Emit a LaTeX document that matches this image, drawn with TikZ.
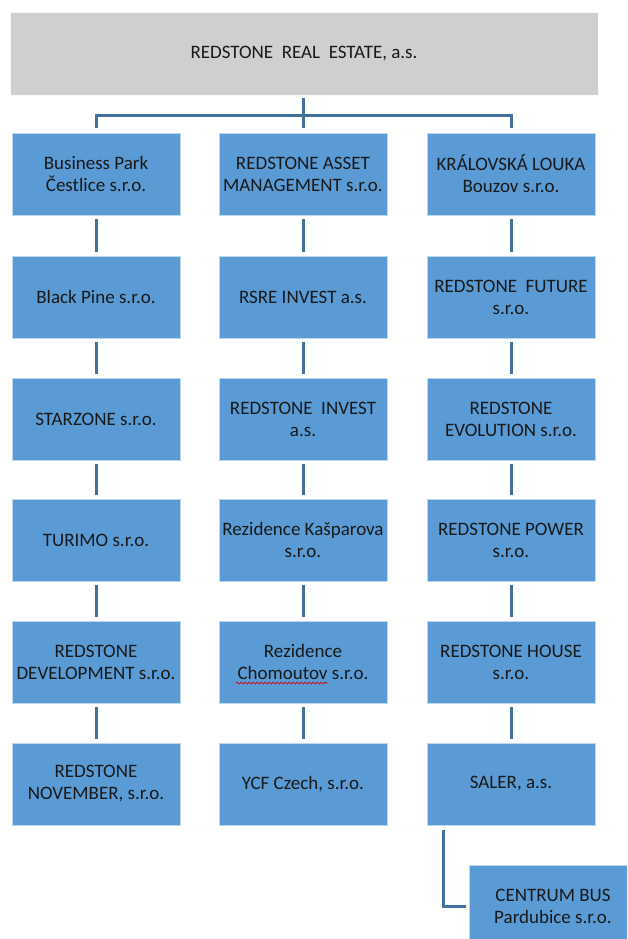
\documentclass[tikz,border=0pt]{standalone}
\usepackage{fontspec}
\setmainfont{Carlito}
\usetikzlibrary{decorations.pathmorphing}
\definecolor{boxblue}{HTML}{5B9BD5}
\definecolor{boxedge}{HTML}{BDD7EE}
\definecolor{topgray}{HTML}{D0CECE}
\definecolor{linkblue}{HTML}{41719C}
\tikzset{
  unit/.style={rectangle, fill=boxblue, draw=boxedge, line width=0.8pt,
    minimum width=168pt, minimum height=82pt, inner sep=0pt, align=center,
    font=\fontsize{19}{22}\selectfont, text=black!90},
  topbox/.style={unit, fill=topgray, draw=white!95!gray, minimum width=588pt, minimum height=83pt},
  conn/.style={draw=linkblue, line width=3pt}
}
\begin{document}
\begin{tikzpicture}[x=1pt,y=-1pt]
\clip (0,0) rectangle (627,939);
\fill[white] (0,0) rectangle (627,939);
\node[topbox] (top) at (304,53.5) {REDSTONE\ \ REAL\ \ ESTATE, a.s.};
% column 1
\node[unit] (a1) at (96,174) {Business Park\\Čestlice s.r.o.};
\node[unit] (a2) at (96,297) {Black Pine s.r.o.};
\node[unit] (a3) at (96,419) {STARZONE s.r.o.};
\node[unit] (a4) at (96,540) {TURIMO s.r.o.};
\node[unit] (a5) at (96,662) {REDSTONE\\DEVELOPMENT s.r.o.};
\node[unit] (a6) at (96,784) {REDSTONE\\NOVEMBER, s.r.o.};
% column 2
\node[unit] (b1) at (303,174) {REDSTONE ASSET\\MANAGEMENT s.r.o.};
\node[unit] (b2) at (303,297) {RSRE INVEST a.s.};
\node[unit] (b3) at (303,419) {REDSTONE\ \ INVEST\\a.s.};
\node[unit] (b4) at (303,540) {Rezidence Kašparova\\s.r.o.};
\node[unit] (b5) at (303,662) {Rezidence\\Chomoutov s.r.o.};
\node[unit] (b6) at (303,784) {YCF Czech, s.r.o.};
% column 3
\node[unit] (c1) at (511,174) {KRÁLOVSKÁ LOUKA\\Bouzov s.r.o.};
\node[unit] (c2) at (511,297) {REDSTONE\ \ FUTURE\\s.r.o.};
\node[unit] (c3) at (511,419) {REDSTONE\\EVOLUTION s.r.o.};
\node[unit] (c4) at (511,540) {REDSTONE POWER\\s.r.o.};
\node[unit] (c5) at (511,662) {REDSTONE HOUSE\\s.r.o.};
\node[unit] (c6) at (511,784) {SALER, a.s.};
\node[unit] (d1) at (553,906) {CENTRUM BUS\\Pardubice s.r.o.};
% spell-check mark
\draw[red!85!black, line width=0.7pt, decorate, decoration={snake, amplitude=1pt, segment length=4pt}] (236,683) -- (328,683);
% connectors
\coordinate (bus) at (303,116);
\draw[conn] ([yshift=-3pt]b1.north |- top.south) -- ([yshift=5pt]b1.north);
\draw[conn] ([yshift=5pt]a1.north) -- (a1.north |- bus) -- (c1.north |- bus) -- ([yshift=5pt]c1.north);
\foreach \c in {a,b,c}{
  \foreach \i [count=\j from 2] in {1,...,5}{
    \draw[conn, shorten <=4pt, shorten >=4pt] (\c\i.south) -- (\c\j.north);
  }
}
\draw[conn] ([xshift=17pt,yshift=-5pt]c6.south west) |- ([xshift=-3pt]d1.west);
\end{tikzpicture}
\end{document}
